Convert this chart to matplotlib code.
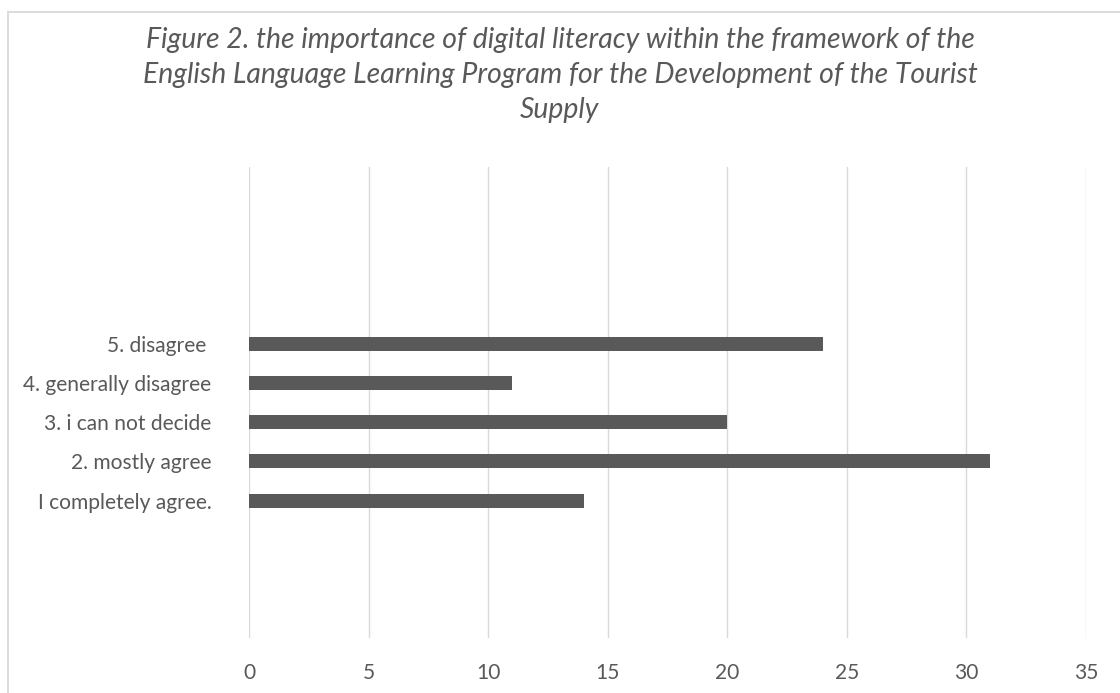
import matplotlib
matplotlib.use("Agg")
import matplotlib.pyplot as plt
from matplotlib.patches import Rectangle

categories = ["I completely agree.", "2. mostly agree", "3. i can not decide",
              "4. generally disagree", "5. disagree "]
values = [14, 31, 20, 11, 24]
x_ticks = [0, 5, 10, 15, 20, 25, 30, 35]
title_lines = [
    "Figure 2. the importance of digital literacy within the framework of the",
    "English Language Learning Program for the Development of the Tourist",
    "Supply",
]

TEXT = "#595959"
GRID = "#D9D9D9"
BAR = "#595959"
FONT = ["Lato", "DejaVu Sans"]

W, H = 1120, 693
fig = plt.figure(figsize=(W / 100, H / 100), dpi=100)
fig.patch.set_facecolor("white")
renderer = fig.canvas.get_renderer()


def fit_size(text, width_px, base=12, **kw):
    """Font size at which `text` renders width_px pixels wide."""
    t = fig.text(0, 0, text, fontsize=base, family=FONT, **kw)
    w = t.get_window_extent(renderer).width
    t.remove()
    return base * width_px / w


label_size = fit_size("4. generally disagree", 188)
title_size = fit_size(title_lines[0], 826, style="italic")
tick_size = label_size

# chart frame (runs off the right and bottom edges)
fig.add_artist(Rectangle((8 / W, -0.05), 1.2, 1 - 12 / H + 0.05,
                         transform=fig.transFigure, fill=False,
                         edgecolor=GRID, linewidth=1.3))

ax = fig.add_axes([249 / W, 1 - 638 / H, (1086 - 249) / W, (638 - 167) / H])
ypos = list(range(len(categories)))
ax.barh(ypos, values, height=0.36, color=BAR, zorder=3)

ax.set_xlim(0, 35)
ax.set_ylim(-3.5, 8.5)
ax.set_xticks(x_ticks)
ax.set_xticklabels([str(t) for t in x_ticks])
ax.set_yticks(ypos)
ax.set_yticklabels(categories)
ax.grid(axis="x", color=GRID, linewidth=1.0, zorder=0)
ax.grid(axis="y", visible=False)
for s in ax.spines.values():
    s.set_visible(False)
ax.tick_params(axis="both", length=0, colors=TEXT)
ax.tick_params(axis="x", pad=18, labelsize=tick_size)
ax.tick_params(axis="y", pad=27, labelsize=label_size)
for lab in ax.get_xticklabels() + ax.get_yticklabels():
    lab.set_fontfamily(FONT)

for i, line in enumerate(title_lines):
    fig.text(560 / W, 1 - (40 + 35 * i) / H, line, ha="center", va="center",
             fontsize=title_size, style="italic", color=TEXT, family=FONT)

fig.savefig("out.png", dpi=100, facecolor="white")
